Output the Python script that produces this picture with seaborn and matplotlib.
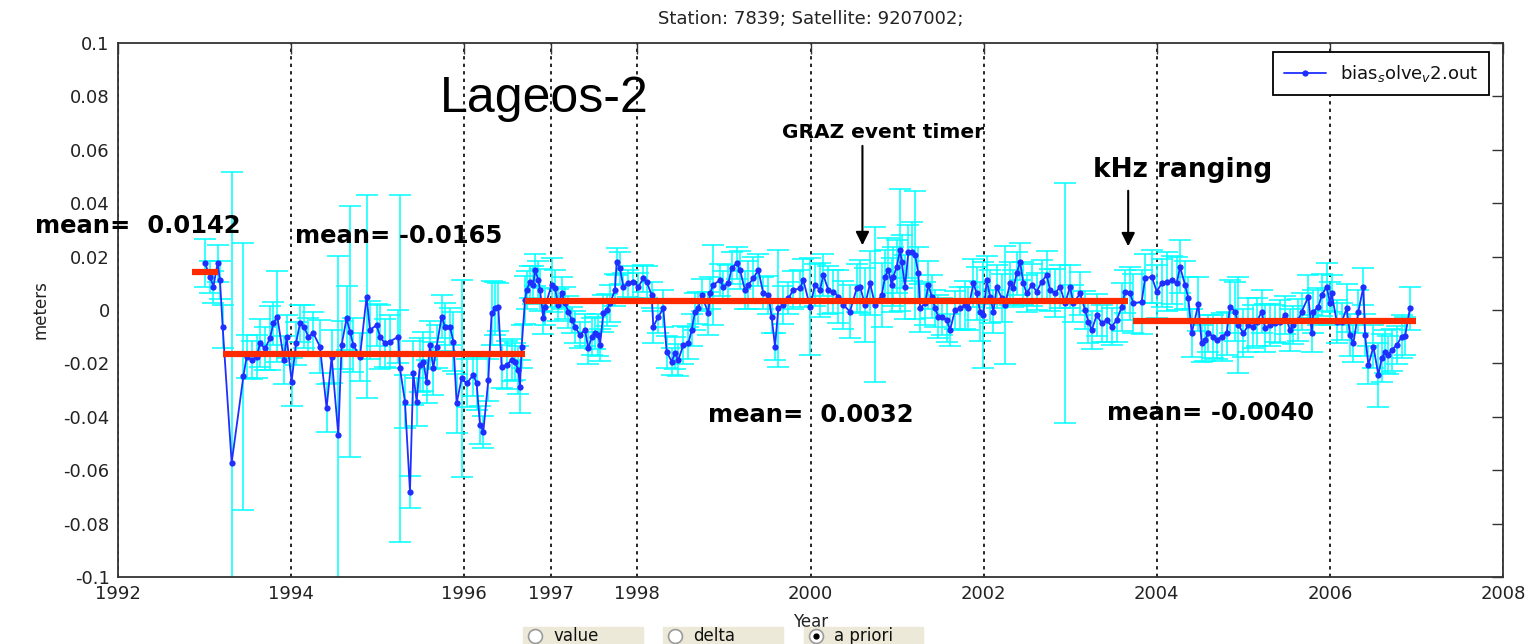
import numpy as np
import matplotlib
matplotlib.use("Agg")
import matplotlib.pyplot as plt
import seaborn as sns
from matplotlib.patches import Rectangle
from matplotlib.lines import Line2D
from matplotlib.ticker import FormatStrFormatter

# ---- data (decimal year, bias in meters, error bar half-length) ----
years = [
    1993.005, 1993.063, 1993.101, 1993.151, 1993.178, 1993.209, 1993.313, 1993.448, 1993.486, 1993.544,
    1993.602, 1993.640, 1993.698, 1993.756, 1993.794, 1993.840, 1993.917, 1993.948, 1994.006, 1994.056,
    1994.102, 1994.148, 1994.198, 1994.256, 1994.333, 1994.410, 1994.468, 1994.545, 1994.583, 1994.641,
    1994.680, 1994.718, 1994.795, 1994.872, 1994.911, 1994.988, 1995.026, 1995.084, 1995.142, 1995.238,
    1995.257, 1995.315, 1995.373, 1995.411, 1995.450, 1995.488, 1995.527, 1995.565, 1995.604, 1995.643,
    1995.681, 1995.739, 1995.777, 1995.835, 1995.874, 1995.912, 1995.970, 1996.028, 1996.105, 1996.143,
    1996.182, 1996.220, 1996.278, 1996.316, 1996.355, 1996.393, 1996.432, 1996.490, 1996.547, 1996.586,
    1996.624, 1996.644, 1996.663, 1996.702,
    1996.721, 1996.760, 1996.798, 1996.817, 1996.856, 1996.875, 1996.914, 1996.933, 1997.010, 1997.048,
    1997.087, 1997.125, 1997.164, 1997.202, 1997.241, 1997.279, 1997.337, 1997.395, 1997.433, 1997.472,
    1997.510, 1997.549, 1997.568, 1997.607, 1997.645, 1997.684, 1997.741, 1997.761, 1997.799, 1997.838,
    1997.895, 1997.953, 1998.011, 1998.069, 1998.107, 1998.165, 1998.184, 1998.242, 1998.300, 1998.338,
    1998.396, 1998.435, 1998.473, 1998.531, 1998.589, 1998.627, 1998.666, 1998.704, 1998.743, 1998.820,
    1998.839, 1998.877, 1998.954, 1998.993, 1999.051, 1999.089, 1999.147, 1999.185, 1999.243, 1999.282,
    1999.340, 1999.397, 1999.455, 1999.513, 1999.551, 1999.590, 1999.628, 1999.686, 1999.744, 1999.802,
    1999.879, 1999.917, 1999.994, 2000.052, 2000.110, 2000.148, 2000.206, 2000.264, 2000.321, 2000.379,
    2000.456, 2000.533,
    2000.573, 2000.630, 2000.688, 2000.746, 2000.823, 2000.861, 2000.900, 2000.938, 2000.958, 2000.996,
    2001.035, 2001.054, 2001.092, 2001.131, 2001.169, 2001.208, 2001.246, 2001.266, 2001.323, 2001.362,
    2001.400, 2001.439, 2001.477, 2001.516, 2001.574, 2001.612, 2001.670, 2001.728, 2001.785, 2001.824,
    2001.882, 2001.920, 2001.959, 2001.997, 2002.036, 2002.074, 2002.113, 2002.151, 2002.209, 2002.248,
    2002.305, 2002.344, 2002.382, 2002.421, 2002.459, 2002.498, 2002.556, 2002.613, 2002.671, 2002.729,
    2002.767, 2002.825, 2002.883, 2002.941, 2002.998, 2003.037, 2003.114, 2003.172, 2003.210, 2003.249,
    2003.307, 2003.364, 2003.422, 2003.480, 2003.538, 2003.595, 2003.634, 2003.692, 2003.730, 2003.826,
    2003.865, 2003.942, 2004.000, 2004.057, 2004.115, 2004.173, 2004.231, 2004.269, 2004.327,
    2004.365, 2004.404, 2004.481, 2004.519, 2004.558, 2004.596, 2004.654, 2004.693, 2004.750, 2004.808,
    2004.847, 2004.904, 2004.943, 2005.001, 2005.058, 2005.116, 2005.155, 2005.213, 2005.251, 2005.309,
    2005.367, 2005.424, 2005.482, 2005.540, 2005.578, 2005.636, 2005.675, 2005.752, 2005.790, 2005.809,
    2005.867, 2005.906, 2005.963, 2006.002, 2006.021, 2006.079, 2006.137, 2006.194, 2006.233, 2006.271,
    2006.329, 2006.387, 2006.406, 2006.445, 2006.503, 2006.560, 2006.599, 2006.637, 2006.676, 2006.714,
    2006.772, 2006.830, 2006.869, 2006.925,
]

bias = [
    0.0175, 0.0125, 0.0087, 0.0175, 0.0112, -0.0062, -0.0572, -0.0249, -0.0175, -0.0187,
    -0.0175, -0.0125, -0.0144, -0.0106, -0.0050, -0.0025, -0.0187, -0.0100, -0.0268, -0.0125,
    -0.0050, -0.0062, -0.0100, -0.0087, -0.0137, -0.0368, -0.0175, -0.0468, -0.0131, -0.0031,
    -0.0081, -0.0131, -0.0175, 0.0050, -0.0075, -0.0056, -0.0100, -0.0125, -0.0118, -0.0100,
    -0.0218, -0.0343, -0.0680, -0.0237, -0.0343, -0.0206, -0.0193, -0.0268, -0.0131, -0.0218,
    -0.0137, -0.0025, -0.0062, -0.0062, -0.0118, -0.0349, -0.0256, -0.0275, -0.0243, -0.0275,
    -0.0431, -0.0456, -0.0262, -0.0012, 0.0006, 0.0012, -0.0212, -0.0206, -0.0187, -0.0193,
    -0.0225, -0.0287, -0.0137, 0.0037,
    0.0075, 0.0106, 0.0094, 0.0150, 0.0112, 0.0075, -0.0031, 0.0013, 0.0094, 0.0081,
    0.0019, 0.0062, 0.0025, -0.0006, -0.0037, -0.0062, -0.0094, -0.0075, -0.0144, -0.0100,
    -0.0087, -0.0094, -0.0131, -0.0012, 0.0000, 0.0025, 0.0075, 0.0181, 0.0156, 0.0087,
    0.0100, 0.0106, 0.0087, 0.0119, 0.0106, 0.0056, -0.0062, -0.0025, 0.0006, -0.0156,
    -0.0193, -0.0162, -0.0187, -0.0131, -0.0125, -0.0075, -0.0006, 0.0006, 0.0056, -0.0012,
    0.0062, 0.0094, 0.0112, 0.0087, 0.0100, 0.0156, 0.0175, 0.0150, 0.0075, 0.0094,
    0.0119, 0.0150, 0.0062, 0.0056, -0.0025, -0.0137, 0.0006, 0.0019, 0.0044, 0.0075,
    0.0081, 0.0112, 0.0013, 0.0094, 0.0075, 0.0131, 0.0075, 0.0069, 0.0050, 0.0019,
    -0.0006, 0.0081,
    0.0087, 0.0019, 0.0100, 0.0019, 0.0056, 0.0125, 0.0150, 0.0094, 0.0125, 0.0162,
    0.0225, 0.0181, 0.0087, 0.0218, 0.0218, 0.0206, 0.0137, 0.0006, 0.0025, 0.0094,
    0.0050, 0.0006, -0.0025, -0.0025, -0.0038, -0.0075, 0.0000, 0.0006, 0.0019, 0.0006,
    0.0100, 0.0062, -0.0006, -0.0019, 0.0112, 0.0050, -0.0006, 0.0087, 0.0044, 0.0019,
    0.0100, 0.0081, 0.0137, 0.0181, 0.0100, 0.0062, 0.0094, 0.0069, 0.0106, 0.0131,
    0.0075, 0.0062, 0.0087, 0.0025, 0.0087, 0.0025, 0.0062, 0.0000, -0.0044, -0.0075,
    -0.0019, -0.0050, -0.0038, -0.0062, -0.0038, 0.0012, 0.0069, 0.0062, 0.0025, 0.0031,
    0.0118, 0.0125, 0.0069, 0.0100, 0.0106, 0.0112, 0.0100, 0.0162, 0.0094,
    0.0044, -0.0087, 0.0023, -0.0125, -0.0112, -0.0087, -0.0100, -0.0112, -0.0100, -0.0087,
    0.0012, -0.0006, -0.0056, -0.0087, -0.0056, -0.0062, -0.0044, -0.0006, -0.0069, -0.0056,
    -0.0050, -0.0044, -0.0019, -0.0075, -0.0056, -0.0037, -0.0006, 0.0050, -0.0087, -0.0006,
    0.0012, 0.0056, 0.0087, 0.0025, 0.0062, -0.0044, -0.0044, 0.0006, -0.0094, -0.0125,
    -0.0006, 0.0087, -0.0094, -0.0206, -0.0137, -0.0243, -0.0181, -0.0156, -0.0168, -0.0150,
    -0.0131, -0.0100, -0.0097, 0.0006,
]

bias_err = [
    0.009, 0.006, 0.006, 0.007, 0.007, 0.008, 0.109, 0.050, 0.008, 0.007,
    0.008, 0.009, 0.008, 0.012, 0.008, 0.017, 0.009, 0.008, 0.009, 0.008,
    0.007, 0.008, 0.007, 0.008, 0.010, 0.009, 0.010, 0.067, 0.009, 0.012,
    0.047, 0.010, 0.009, 0.038, 0.011, 0.008, 0.012, 0.009, 0.010, 0.010,
    0.065, 0.010, 0.006, 0.012, 0.009, 0.010, 0.011, 0.008, 0.009, 0.010,
    0.008, 0.008, 0.009, 0.007, 0.011, 0.011, 0.037, 0.009, 0.008, 0.010,
    0.007, 0.006, 0.008, 0.012, 0.010, 0.009, 0.008, 0.009, 0.008, 0.007,
    0.009, 0.010, 0.008, 0.009,
    0.007, 0.006, 0.007, 0.006, 0.007, 0.008, 0.006, 0.007, 0.010, 0.007,
    0.006, 0.006, 0.006, 0.006, 0.005, 0.006, 0.005, 0.006, 0.006, 0.007,
    0.006, 0.008, 0.006, 0.007, 0.006, 0.007, 0.006, 0.005, 0.006, 0.005,
    0.005, 0.006, 0.005, 0.005, 0.006, 0.005, 0.006, 0.006, 0.007, 0.006,
    0.005, 0.006, 0.006, 0.007, 0.006, 0.006, 0.007, 0.006, 0.006, 0.008,
    0.006, 0.015, 0.006, 0.006, 0.007, 0.006, 0.006, 0.007, 0.007, 0.009,
    0.008, 0.006, 0.006, 0.007, 0.006, 0.005, 0.022, 0.007, 0.006, 0.007,
    0.007, 0.008, 0.018, 0.008, 0.010, 0.008, 0.009, 0.008, 0.010, 0.009,
    0.010, 0.009,
    0.010, 0.014, 0.012, 0.029, 0.012, 0.010, 0.012, 0.010, 0.011, 0.010,
    0.023, 0.010, 0.012, 0.010, 0.011, 0.024, 0.010, 0.009, 0.008, 0.009,
    0.008, 0.007, 0.008, 0.007, 0.008, 0.006, 0.007, 0.008, 0.009, 0.008,
    0.009, 0.010, 0.011, 0.020, 0.009, 0.010, 0.008, 0.008, 0.009, 0.022,
    0.008, 0.007, 0.008, 0.007, 0.008, 0.007, 0.008, 0.007, 0.008, 0.009,
    0.008, 0.009, 0.008, 0.045, 0.008, 0.007, 0.008, 0.007, 0.008, 0.007,
    0.008, 0.007, 0.008, 0.007, 0.008, 0.009, 0.008, 0.010, 0.011, 0.012,
    0.009, 0.010, 0.010, 0.009, 0.011, 0.009, 0.010, 0.010, 0.009,
    0.008, 0.009, 0.010, 0.007, 0.008, 0.007, 0.008, 0.007, 0.009, 0.008,
    0.010, 0.011, 0.018, 0.009, 0.010, 0.008, 0.009, 0.008, 0.009, 0.008,
    0.007, 0.008, 0.007, 0.008, 0.007, 0.008, 0.007, 0.008, 0.007, 0.008,
    0.007, 0.008, 0.009, 0.008, 0.007, 0.008, 0.007, 0.009, 0.008, 0.007,
    0.008, 0.007, 0.008, 0.007, 0.008, 0.012, 0.009, 0.008, 0.007, 0.008,
    0.007, 0.008, 0.007, 0.008,
]

# mean levels of the four periods
mean_vals = [0.0142, -0.0165, 0.0032, -0.0040]
mean_start = [1992.86, 1993.21, 1996.70, 2003.72]
mean_end = [1993.15, 1996.70, 2003.67, 2007.00]
mean_labels = ["mean=  0.0142", "mean= -0.0165", "mean=  0.0032", "mean= -0.0040"]
mean_label_x = [1991.04, 1994.05, 1998.82, 2003.43]
mean_label_y = [0.0315, 0.0277, -0.0393, -0.0386]

x_ticks = [1992, 1994, 1996, 1997, 1998, 2000, 2002, 2004, 2006, 2008]
y_ticks = [-0.1, -0.08, -0.06, -0.04, -0.02, 0, 0.02, 0.04, 0.06, 0.08, 0.1]

events = ["GRAZ event timer", "kHz ranging"]
event_x = [2000.60, 2003.67]
event_tip = [0.0232, 0.0228]
event_tail = [0.0625, 0.0457]
event_text_x = [1999.67, 2003.26]
event_text_y = [0.0663, 0.0524]
event_size = [14.5, 19]

radio_labels = ["value", "delta", "a priori"]

sns.set_theme(style="white")
plt.rcParams["font.family"] = ["DejaVu Sans"]
plt.rcParams["text.color"] = "black"
plt.rcParams["axes.labelcolor"] = "#111111"

fig = plt.figure(figsize=(15.32, 6.44), dpi=100)
ax = fig.add_axes([118 / 1532, 1 - 577 / 644, 1385 / 1532, 534 / 644])

ax.errorbar(years, bias, yerr=bias_err, fmt="none", ecolor="#00ffff",
            elinewidth=1.1, capsize=8, capthick=1.1, zorder=2)
sns.lineplot(x=years, y=bias, ax=ax, color="#1f2fff", lw=1.3, marker="o",
             markersize=4.5, markeredgewidth=0, sort=False, estimator=None,
             label="bias$_s$olve$_v$2.out", zorder=3)
ax.hlines(mean_vals, mean_start, mean_end, colors="#ff2a00", lw=4.5, zorder=4)

ax.set_xlim(1992, 2008)
ax.set_ylim(-0.1, 0.1)
ax.set_xticks(x_ticks)
ax.set_yticks(y_ticks)
ax.yaxis.set_major_formatter(FormatStrFormatter("%g"))
ax.tick_params(direction="in", length=8, width=1, top=True, right=True,
               labelsize=13, pad=6, labelcolor="#222222", color="#333333")
ax.grid(axis="x", linestyle=(0, (2, 2.5)), color="black", lw=1.2)
for s in ax.spines.values():
    s.set_color("#333333")
    s.set_linewidth(1.3)

ax.set_title("Station: 7839; Satellite: 9207002;", fontsize=13, pad=14, color="#222222")
ax.set_xlabel("Year", fontsize=12, labelpad=7, color="#222222")
ax.set_ylabel("meters", fontsize=12, labelpad=10, color="#222222")

leg = ax.legend(loc="upper right", bbox_to_anchor=(0.9899, 0.9831), borderaxespad=0,
                fontsize=13, handlelength=2.3, fancybox=False, framealpha=1,
                edgecolor="black", borderpad=0.6)
leg.get_frame().set_linewidth(1.3)
for t in leg.get_texts():
    t.set_color("#111111")

for lab, lx, ly in zip(mean_labels, mean_label_x, mean_label_y):
    ax.text(lx, ly, lab, fontsize=17.5, fontweight="bold", ha="left", va="center",
            color="black", clip_on=False, zorder=6)

for name, ex, tip, tail, tx, ty, fs in zip(events, event_x, event_tip, event_tail,
                                          event_text_x, event_text_y, event_size):
    ax.annotate("", xy=(ex, tip), xytext=(ex, tail),
                arrowprops=dict(arrowstyle="-|>", color="black", lw=1.5, mutation_scale=20),
                zorder=6)
    ax.text(tx, ty, name, fontsize=fs, fontweight="bold", ha="left", va="center",
            color="black", zorder=6)

ax.text(1995.72, 0.0742, "Lageos-2", fontsize=36, family=["Liberation Sans", "DejaVu Sans"],
        ha="left", va="baseline", color="black", zorder=6)

# radio buttons under the axis
radio_left = [523, 663, 804]
radio_width = [120, 120, 119]
for i, (lab, x0, w) in enumerate(zip(radio_labels, radio_left, radio_width)):
    fig.add_artist(Rectangle((x0 / 1532, 0), w / 1532, 17 / 644,
                             transform=fig.transFigure, color="#ece9d8", zorder=1))
    fig.add_artist(Line2D([(x0 + 12) / 1532], [8 / 644], transform=fig.transFigure,
                          marker="o", ms=10, mfc="white", mec="#9a9a9a", mew=1.2))
    if i == 2:
        fig.add_artist(Line2D([(x0 + 12) / 1532], [8 / 644], transform=fig.transFigure,
                              marker="o", ms=3.5, mfc="black", mec="black"))
    fig.text((x0 + 30) / 1532, 8 / 644, lab, fontsize=12, ha="left", va="center",
             color="#111111")

fig.savefig("out.png", dpi=100)
